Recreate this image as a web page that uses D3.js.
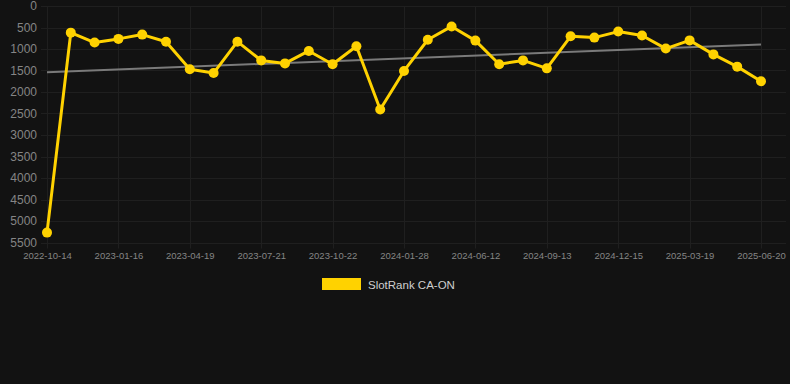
<!DOCTYPE html>
<html lang="en">
<head>
  <meta charset="UTF-8">
  <title>SlotRank CA-ON</title>
  <script src="https://d3js.org/d3.v7.min.js"></script>
  <style>
    html, body { margin: 0; padding: 0; background: #121212; }
    svg { display: block; font-family: "Liberation Sans", Arial, sans-serif; }
    .grid line { stroke: #1f1f1f; stroke-width: 1; }
    .tick-label { fill: #858585; }
  </style>
</head>
<body>
  <div id="chart"></div>
  <script>
    // Category dates (every 3rd one is labelled on the axis)
    const dates = [
      "2022-10-14", "2022-11-15", "2022-12-16", "2023-01-16", "2023-02-16", "2023-03-19",
      "2023-04-19", "2023-05-20", "2023-06-20", "2023-07-21", "2023-08-21", "2023-09-21",
      "2023-10-22", "2023-11-26", "2023-12-28", "2024-01-28", "2024-03-14", "2024-04-28",
      "2024-06-12", "2024-07-13", "2024-08-13", "2024-09-13", "2024-10-14", "2024-11-14",
      "2024-12-15", "2025-01-15", "2025-02-16", "2025-03-19", "2025-04-19", "2025-05-20",
      "2025-06-20"
    ];
    const ranks = [
      5270, 620, 850, 765, 665, 830, 1470, 1560, 830, 1265, 1335,
      1045, 1355, 935, 2405, 1510, 785, 475, 805, 1355, 1265,
      1450, 705, 735, 595, 685, 990, 800, 1125, 1410, 1750
    ];
    const trend = [1540, 895]; // start / end of trend line
    const yTicks = [0, 500, 1000, 1500, 2000, 2500, 3000, 3500, 4000, 4500, 5000, 5500];
    const seriesName = "SlotRank CA-ON";

    const width = 790, height = 384;
    const m = { left: 47, right: 761, top: 6, bottom: 242.5 };
    const gold = "#ffd200";

    const svg = d3.select("#chart").append("svg")
      .attr("width", width).attr("height", height);

    const x = d3.scalePoint().domain(dates).range([m.left, m.right]);
    const y = d3.scaleLinear().domain([0, 5500]).range([m.top, m.bottom]);

    // horizontal grid
    svg.append("g").attr("class", "grid")
      .selectAll("line").data(yTicks).enter().append("line")
      .attr("x1", m.left - 6).attr("x2", m.right + 25)
      .attr("y1", d => Math.round(y(d)) + 0.5).attr("y2", d => Math.round(y(d)) + 0.5);

    // vertical grid at labelled dates
    const labelled = dates.filter((d, i) => i % 3 === 0);
    svg.append("g").attr("class", "grid")
      .selectAll("line").data(labelled).enter().append("line")
      .attr("x1", d => Math.round(x(d)) + 0.5).attr("x2", d => Math.round(x(d)) + 0.5)
      .attr("y1", m.top).attr("y2", m.bottom + 6);

    // y axis labels
    const yAxis = svg.append("g")
      .attr("transform", `translate(${m.left - 10},0)`)
      .call(d3.axisLeft(y).tickValues(yTicks).tickSize(0).tickPadding(0).tickFormat(d3.format("d")));
    yAxis.select(".domain").remove();
    yAxis.selectAll("text").attr("class", "tick-label").style("font-size", "12px");

    // x axis labels
    const xAxis = svg.append("g")
      .attr("transform", `translate(0,${m.bottom + 10})`)
      .call(d3.axisBottom(x).tickValues(labelled).tickSize(0).tickPadding(0));
    xAxis.select(".domain").remove();
    xAxis.selectAll("text").attr("class", "tick-label").style("font-size", "9.5px");

    // trend line
    svg.append("line")
      .attr("x1", x(dates[0])).attr("x2", x(dates[dates.length - 1]))
      .attr("y1", y(trend[0])).attr("y2", y(trend[1]))
      .attr("stroke", "#7a7a7a").attr("stroke-width", 2);

    const pts = dates.map((d, i) => ({ date: d, rank: ranks[i] }));

    svg.append("path")
      .datum(pts)
      .attr("fill", "none")
      .attr("stroke", gold)
      .attr("stroke-width", 3)
      .attr("stroke-linejoin", "round")
      .attr("d", d3.line().x(d => x(d.date)).y(d => y(d.rank)));

    svg.selectAll(".pt").data(pts).enter().append("circle")
      .attr("class", "pt")
      .attr("cx", d => x(d.date)).attr("cy", d => y(d.rank))
      .attr("r", 5).attr("fill", gold);

    // legend
    const legend = svg.append("g").attr("transform", "translate(322,278)");
    legend.append("rect").attr("width", 39).attr("height", 12).attr("fill", gold);
    legend.append("text").attr("x", 46).attr("y", 10.5)
      .attr("fill", "#cfcfcf").style("font-size", "11.5px").text(seriesName);
  </script>
</body>
</html>
